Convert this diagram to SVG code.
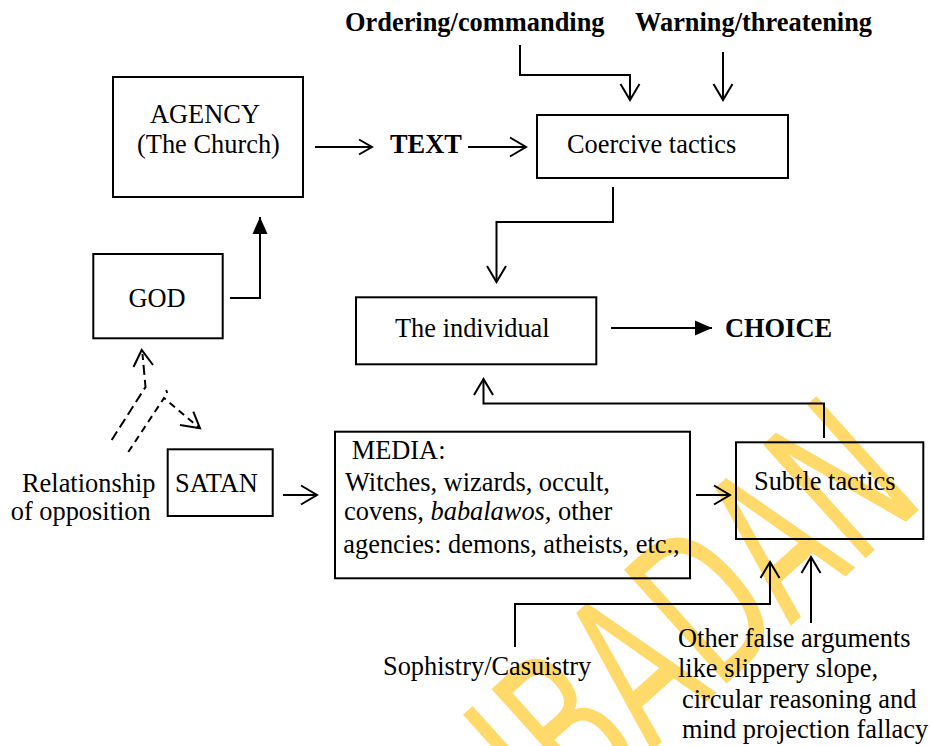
<svg xmlns="http://www.w3.org/2000/svg" width="931" height="746" viewBox="0 0 931 746">
  <style>
    .box { fill: none; stroke: #000; stroke-width: 2; }
    .ln { fill: none; stroke: #000; stroke-width: 2; }
    .dash1 { fill: none; stroke: #000; stroke-width: 2; stroke-dasharray: 10 5; }
    .dash2 { fill: none; stroke: #000; stroke-width: 2; stroke-dasharray: 7 5; }
    .t { font-family: "Liberation Serif", "Times New Roman", serif; font-size: 26.4px; fill: #000; }
    .b { font-weight: bold; }
    .i { font-style: italic; }
    .wm { font-family: "DejaVu Sans", sans-serif; font-size: 210px; fill: #FFDA6B; }
  </style>
  <defs>
    <marker id="open" markerUnits="userSpaceOnUse" viewBox="0 0 20 22" markerWidth="20" markerHeight="22" refX="17" refY="11" orient="auto">
      <path d="M1,1.5 L17,11 L1,20.5" fill="none" stroke="#000" stroke-width="2"/>
    </marker>
    <marker id="openSmall" markerUnits="userSpaceOnUse" viewBox="0 0 16 18" markerWidth="16" markerHeight="18" refX="14" refY="9" orient="auto">
      <path d="M1,1.5 L14,9 L1,16.5" fill="none" stroke="#000" stroke-width="2"/>
    </marker>
    <marker id="solid" markerUnits="userSpaceOnUse" viewBox="0 0 17 16" markerWidth="17" markerHeight="16" refX="17" refY="8" orient="auto">
      <path d="M0,0.5 L17,8 L0,15.5 Z" fill="#000"/>
    </marker>
  </defs>

  <rect width="931" height="746" fill="#fff"/>

  <!-- library watermark, running diagonally behind the lower right -->
  <text class="wm" transform="translate(556,837) rotate(-42) scale(0.62,1)">IBADAN</text>

  <!-- connectors -->
  <g id="connectors">
    <path class="ln" d="M315,147 H372" marker-end="url(#openSmall)"/>
    <path class="ln" d="M468,147 H526" marker-end="url(#open)"/>
    <path class="ln" d="M520,45 V75 H630 V100" marker-end="url(#open)"/>
    <path class="ln" d="M723,52 V100" marker-end="url(#open)"/>
    <path class="ln" d="M613,187 V222 H496.5 V282" marker-end="url(#open)"/>
    <path class="ln" d="M611,328 H712" marker-end="url(#solid)"/>
    <path class="ln" d="M230,298 H260 V217" marker-end="url(#solid)"/>
    <path class="ln" d="M283,495 H317" marker-end="url(#open)"/>
    <path class="ln" d="M696,495 H730" marker-end="url(#open)"/>
    <path class="ln" d="M824,438 V403.5 H483.5 V379" marker-end="url(#open)"/>
    <path class="ln" d="M515,647 V604 H770 V562" marker-end="url(#open)"/>
    <path class="ln" d="M811,623 V557" marker-end="url(#open)"/>
    <!-- opposition: dashed links between GOD and SATAN -->
    <path class="dash1" d="M111.7,440 L145.5,387 L142.5,354"/>
    <polyline class="ln" points="133.5,367 141.7,350 153,365"/>
    <path class="dash2" d="M128.3,452 L164,398 L199,427.5"/>
    <polyline class="ln" points="180,425 200,428.3 193.3,411.7"/>
    <path class="ln" d="M166.2,390 L167.2,393"/>
  </g>

  <!-- headings above the coercive tactics -->
  <g id="ordering"><text class="t b" x="345" y="31">Ordering/commanding</text></g>
  <g id="warning"><text class="t b" x="635" y="31">Warning/threatening</text></g>

  <g id="agency">
    <rect class="box" x="113" y="77" width="190" height="120"/>
    <text class="t" x="150" y="122.5">AGENCY</text>
    <text class="t" x="137" y="153.3">(The Church)</text>
  </g>

  <g id="text-label"><text class="t b" x="390" y="153.3">TEXT</text></g>

  <g id="coercive">
    <rect class="box" x="537" y="115" width="251" height="63"/>
    <text class="t" x="567" y="153.3">Coercive tactics</text>
  </g>

  <g id="god">
    <rect class="box" x="93.3" y="254" width="129.4" height="84.3"/>
    <text class="t" x="128.5" y="306.7">GOD</text>
  </g>

  <g id="individual">
    <rect class="box" x="356" y="297.3" width="240.3" height="67"/>
    <text class="t" x="395" y="336.7">The individual</text>
  </g>

  <g id="choice"><text class="t b" x="725" y="336.7">CHOICE</text></g>

  <g id="relationship">
    <text class="t" x="22" y="491.7">Relationship</text>
    <text class="t" x="10.7" y="520">of opposition</text>
  </g>

  <g id="satan">
    <rect class="box" x="167.7" y="449.3" width="105" height="66.7"/>
    <text class="t" x="175" y="491.7">SATAN</text>
  </g>

  <g id="media">
    <rect class="box" x="335" y="431.7" width="355" height="146.6"/>
    <text class="t" x="351.7" y="459.3">MEDIA:</text>
    <text class="t" x="345" y="491">Witches, wizards, occult,</text>
    <text class="t" x="344" y="520">covens, <tspan class="i">babalawos,</tspan> other</text>
    <text class="t" x="343.3" y="552.7">agencies: demons, atheists, etc.,</text>
  </g>

  <g id="subtle">
    <rect class="box" x="736" y="442.3" width="187.3" height="96.7"/>
    <text class="t" x="754" y="490">Subtle tactics</text>
  </g>

  <g id="sophistry"><text class="t" x="383" y="675">Sophistry/Casuistry</text></g>

  <g id="false-arguments">
    <text class="t" x="678" y="647">Other false arguments</text>
    <text class="t" x="678" y="677">like slippery slope,</text>
    <text class="t" x="682" y="708">circular reasoning and</text>
    <text class="t" x="682" y="738">mind projection fallacy</text>
  </g>
</svg>
